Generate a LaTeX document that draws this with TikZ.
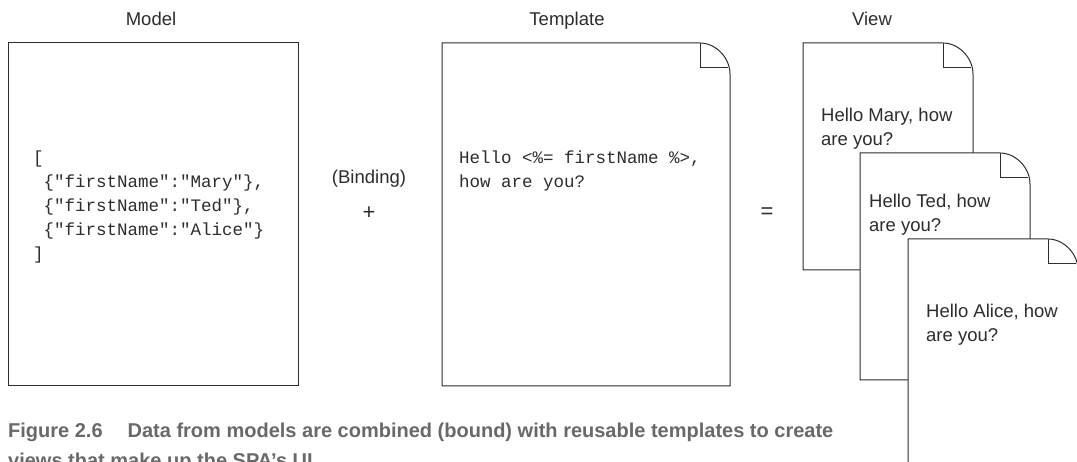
\documentclass[tikz,border=0pt]{standalone}
\usepackage{fontspec}
\setmainfont{Liberation Sans}
\setmonofont{Liberation Mono}
\usepackage{xcolor}
\definecolor{ink}{RGB}{45,45,45}
\definecolor{capgray}{RGB}{105,105,105}

\begin{document}
\begin{tikzpicture}
    [ x=1pt, y=-1pt
    , page/.style={draw=ink, fill=white, line width=1pt, line join=miter}
    , label/.style={font=\fontsize{18.5}{24}\selectfont, text=ink, inner sep=0pt, align=left}
    , sign/.style={font=\fontsize{22}{24}\selectfont, text=ink, inner sep=0pt}
    , code/.style={font=\ttfamily\fontsize{17.5}{24}\selectfont, text=ink, inner sep=0pt, align=left}
    , caption/.style={font=\bfseries\fontsize{20}{29}\selectfont, text=capgray, inner sep=0pt, align=left}
    ]
\clip (0,0) rectangle (1077,462);
\fill[white] (0,0) rectangle (1077,462);

% model
\node[label, anchor=base] (model) at (151,26) {Model};
\draw[page] (8,43) rectangle (298,386);
\node[code, anchor=base west] (modelcode) at (33,260)
    {[\\
     \hphantom{x}\{"firstName":"Mary"\},\\
     \hphantom{x}\{"firstName":"Ted"\},\\
     \hphantom{x}\{"firstName":"Alice"\}\\
     ]};

\node[label, anchor=base] (binding) at (369,184) {(Binding)};
\node[sign, anchor=base] (plus) at (369,220) {+};

% template
\node[label, anchor=base] (template) at (567,26) {Template};
\draw[page] (442,43) -- (700,43) .. controls (716,43) and (730,58) .. (730,74)
    -- (730,386) -- (442,386) -- cycle;
\draw[page] (700,43) -- (700,68) -- (728,68);
\node[code, anchor=base west] (templatecode) at (459,188)
    {Hello <\%= firstName \%>,\\how are you?};

\node[sign, anchor=base] (equals) at (767,219) {=};

% views
\node[label, anchor=base] (view) at (872,26) {View};
\foreach \px/\py/\tx/\ty/\who in
    {803/43/821/146/Mary, 860/153/869/232/Ted, 908/239/926/342/Alice}
{
  \draw[page] (\px,\py) -- ++(140,0) .. controls +(16,0) and +(0,-16) .. ++(30,31)
      -- (\px+170,\py+227) -- (\px,\py+227) -- cycle;
  \draw[page] (\px+140,\py) -- ++(0,25) -- ++(28,0);
  \node[label, anchor=base west] (view-\who) at (\tx,\ty) {Hello \who, how\\are you?};
}

\node[caption, anchor=base west] (caption) at (8,467)
    {Figure 2.6\hspace{25pt}Data from models are combined (bound) with reusable templates to create\\
     views that make up the SPA’s UI.};
\end{tikzpicture}
\end{document}
